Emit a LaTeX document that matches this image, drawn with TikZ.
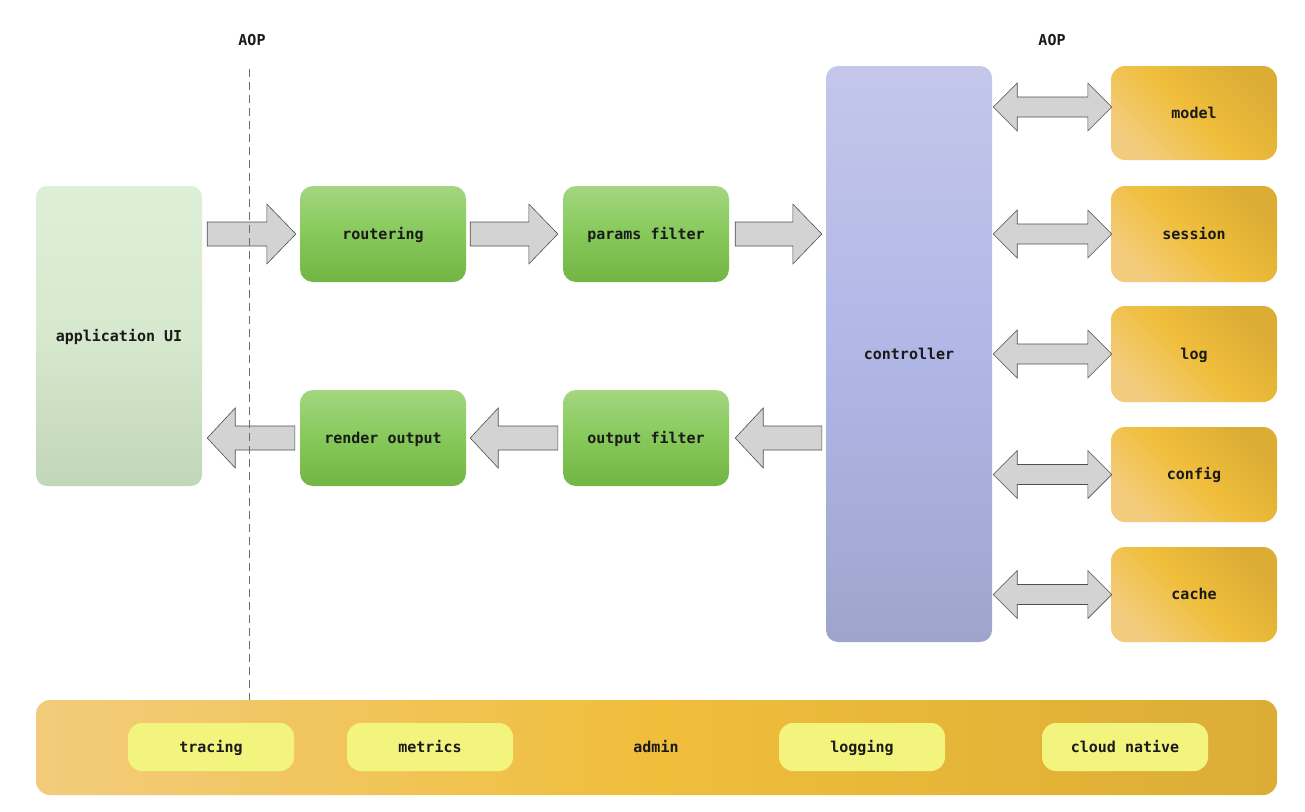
\documentclass[tikz,border=0pt]{standalone}
\usepackage{fontspec}
\setmonofont{DejaVu Sans Mono}
\usetikzlibrary{calc}
\definecolor{grnT}{RGB}{164,214,128}
\definecolor{grnM}{RGB}{134,201,90}
\definecolor{grnB}{RGB}{114,181,68}
\definecolor{uiT}{RGB}{222,239,216}
\definecolor{uiM}{RGB}{214,232,205}
\definecolor{uiB}{RGB}{194,214,185}
\definecolor{ctT}{RGB}{196,199,234}
\definecolor{ctM}{RGB}{176,183,230}
\definecolor{ctB}{RGB}{158,165,204}
\definecolor{orL}{RGB}{242,204,124}
\definecolor{orM}{RGB}{240,190,59}
\definecolor{orD}{RGB}{219,173,53}
\definecolor{pill}{RGB}{243,244,126}
\definecolor{arrfill}{RGB}{211,211,211}
\definecolor{arrline}{RGB}{80,80,80}
\definecolor{txt}{RGB}{26,26,26}
\newcommand\BlkRight[2]{\draw[blk] let \p1=(#1), \p2=(#2) in
  (\x1,\y1+12pt) -- (\x2-29pt,\y1+12pt) -- (\x2-29pt,\y1+30pt) -- (\x2,\y1)
  -- (\x2-29pt,\y1-30pt) -- (\x2-29pt,\y1-12pt) -- (\x1,\y1-12pt) -- cycle;}
\newcommand\BlkLeft[2]{\draw[blk] let \p1=(#1), \p2=(#2) in
  (\x1,\y1+12pt) -- (\x2+28pt,\y1+12pt) -- (\x2+28pt,\y1+30pt) -- (\x2,\y1)
  -- (\x2+28pt,\y1-30pt) -- (\x2+28pt,\y1-12pt) -- (\x1,\y1-12pt) -- cycle;}
\newcommand\BlkBoth[2]{\draw[blk] let \p1=(#1), \p2=(#2) in
  (\x1,\y1) -- (\x1+24pt,\y1+24pt) -- (\x1+24pt,\y1+10pt) -- (\x2-24pt,\y1+10pt)
  -- (\x2-24pt,\y1+24pt) -- (\x2,\y1) -- (\x2-24pt,\y1-24pt) -- (\x2-24pt,\y1-10pt)
  -- (\x1+24pt,\y1-10pt) -- (\x1+24pt,\y1-24pt) -- cycle;}
\begin{document}
\begin{tikzpicture}[x=1pt,y=-1pt,
  lbl/.style={font=\ttfamily\bfseries\fontsize{15}{18}\selectfont, text=txt, text height=13pt, text depth=3pt},
  box/.style={lbl, inner sep=0pt, rounded corners=13pt, minimum width=166pt},
  greenbox/.style={box, minimum height=96pt, top color=grnT, bottom color=grnB, middle color=grnM},
  uibox/.style={box, minimum height=300pt, rounded corners=11pt, top color=uiT, bottom color=uiB, middle color=uiM},
  ctrlbox/.style={box, minimum height=576pt, rounded corners=12pt, top color=ctT, bottom color=ctB, middle color=ctM},
  orbox/.style={box, minimum height=95pt, rounded corners=14pt, top color=orD, bottom color=orL, middle color=orM, shading angle=-45},
  pillbox/.style={box, minimum height=48pt, rounded corners=14pt, fill=pill},
  blk/.style={fill=arrfill, draw=arrline, line width=0.6pt, line join=miter},
  aopline/.style={draw=gray!85!black, line width=0.9pt, dash pattern=on 8pt off 5pt}
]
\useasboundingbox (0,0) rectangle (1305,811);
\fill[white] (0,0) rectangle (1305,811);

% bottom bar
\node[box, minimum width=1241pt, minimum height=95pt, rounded corners=14pt,
  left color=orL, right color=orD, middle color=orM] (bar) at (656.5,747.5) {};
\node[pillbox] (tracing) at (211,747) {tracing};
\node[pillbox] (metrics) at (430,747) {metrics};
\node[lbl] (admin) at (656,747) {admin};
\node[pillbox] (logging) at (862,747) {logging};
\node[pillbox] (cloud) at (1125,747) {cloud native};

% main boxes
\node[uibox] (appui) at (119,336) {application UI};
\node[greenbox] (rout) at (383,234) {routering};
\node[greenbox] (params) at (646,234) {params filter};
\node[greenbox] (render) at (383,438) {render output};
\node[greenbox] (outf) at (646,438) {output filter};
\node[ctrlbox] (ctrl) at (909,354) {controller};

\node[orbox, minimum height=94pt] (model) at (1194,113) {model};
\node[orbox, minimum height=96pt] (session) at (1194,234) {session};
\node[orbox, minimum height=96pt] (log) at (1194,354) {log};
\node[orbox] (config) at (1194,474.5) {config};
\node[orbox] (cache) at (1194,594.5) {cache};

% labels
\node[lbl] (aop1) at (252,40) {AOP};
\node[lbl] (aop2) at (1052,40) {AOP};

% flow arrows
\BlkRight{$(appui.east |- rout.west)+(5,0)$}{$(rout.west)+(-4,0)$}
\BlkRight{$(rout.east)+(4,0)$}{$(params.west)+(-5,0)$}
\BlkRight{$(params.east)+(6,0)$}{$(ctrl.west |- params.east)+(-4,0)$}
\BlkLeft{$(ctrl.west |- outf.east)+(-4,0)$}{$(outf.east)+(6,0)$}
\BlkLeft{$(outf.west)+(-5,0)$}{$(render.east)+(4,0)$}
\BlkLeft{$(render.west)+(-5,0)$}{$(appui.east)+(5,0)$}

% double arrows
\BlkBoth{$(ctrl.east |- model.west)+(1,-6)$}{$(model.west)+(1,0)$}
\BlkBoth{$(ctrl.east |- session.west)+(1,0)$}{$(session.west)+(1,0)$}
\BlkBoth{$(ctrl.east |- log.west)+(1,0)$}{$(log.west)+(1,0)$}
\BlkBoth{$(ctrl.east |- config.west)+(1,0)$}{$(config.west)+(1,0)$}
\BlkBoth{$(ctrl.east |- cache.west)+(1,0)$}{$(cache.west)+(1,0)$}

% AOP dashed line
\coordinate (aopTop) at ($(aop1.south)+(-3,17)$);
\coordinate (aopBot) at (aopTop |- bar.north);
\draw[aopline] (aopTop) -- (aopBot);
\end{tikzpicture}
\end{document}
